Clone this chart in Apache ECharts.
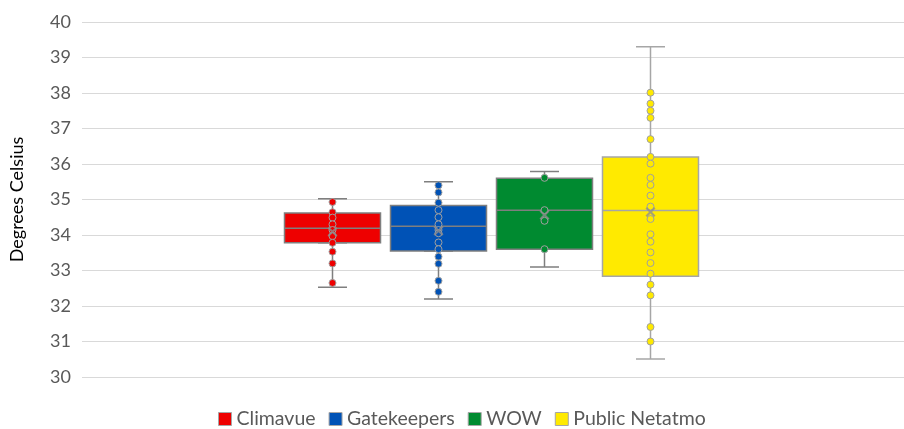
<!DOCTYPE html>
<html><head><meta charset="utf-8">
<script src="https://cdn.jsdelivr.net/npm/echarts@6/dist/echarts.min.js"></script>
<style>html,body{margin:0;padding:0;background:#fff}#c{width:904px;height:429px}</style>
</head><body><div id="c"></div>
<script>
// Station names (legend / categories)
const stationNames = ['Climavue', 'Gatekeepers', 'WOW', 'Public Netatmo'];
// Box statistics: [min, Q1, median, Q3, max]
const climavueStats = [32.53, 33.78, 34.19, 34.62, 35.02];
const gatekeepersStats = [32.20, 33.55, 34.25, 34.83, 35.50];
const wowStats = [33.10, 33.60, 34.70, 35.60, 35.79];
const netatmoStats = [30.51, 32.84, 34.69, 36.20, 39.30];
// Means (X markers)
const meanValues = [34.09, 34.12, 34.56, 34.65];
// Individual data points
const climavuePoints = [34.93, 34.64, 34.49, 34.30, 34.14, 33.97, 33.78, 33.53, 33.20, 32.65];
const gatekeepersPoints = [35.40, 35.20, 34.91, 34.70, 34.50, 34.30, 34.14, 34.05, 33.79, 33.60, 33.39, 33.19, 32.71, 32.40];
const wowPoints = [35.61, 34.70, 34.40, 33.60];
const netatmoPoints = [38.01, 37.70, 37.50, 37.30, 36.70, 36.20, 36.01, 35.61, 35.41, 35.11, 34.80, 34.45, 34.02, 33.81, 33.51, 33.21, 32.91, 32.60, 32.30, 31.41, 31.00];
// Axis
const yMin = 30, yMax = 40, yStep = 1;

const stats = [climavueStats, gatekeepersStats, wowStats, netatmoStats];
const points = [climavuePoints, gatekeepersPoints, wowPoints, netatmoPoints];
const fillColors = ['#ee0000', '#0052b6', '#008a30', '#ffea00'];
const lineColors = ['#7f7f7f', '#7f7f7f', '#7f7f7f', '#a6a6a6'];
const FONT = 'Lato';

const chart = echarts.init(document.getElementById('c'), null, {renderer: 'canvas'});

const whiskerData = stats.map((s, i) => ({
  value: [s[0], s[1], s[1], s[1], s[4]],
  itemStyle: {color: 'rgba(0,0,0,0)', borderColor: lineColors[i], borderWidth: 1.5}
}));
const boxData = stats.map((s, i) => ({
  value: [s[1], s[1], s[2], s[3], s[3]],
  itemStyle: {color: fillColors[i], borderColor: lineColors[i], borderWidth: 1.5}
}));

const pointSeries = points.map((p, i) => ({
  name: stationNames[i],
  type: 'scatter',
  xAxisIndex: 1, yAxisIndex: 1,
  data: p.map(v => [i, v]),
  symbol: 'circle',
  symbolSize: 7,
  itemStyle: {color: fillColors[i], borderColor: '#a0a0a0', borderWidth: 1, opacity: 1},
  z: 5,
  silent: true
}));

chart.setOption({
  animation: false,
  textStyle: {fontFamily: FONT},
  grid: [
    {left: 73, right: 0, top: 22, bottom: 52},
    {left: 279.5, right: 200.5, top: 22, bottom: 52}
  ],
  xAxis: [
    {type: 'category', gridIndex: 0, data: [''], show: false},
    {type: 'category', gridIndex: 1, data: stationNames, show: false},
    {type: 'category', gridIndex: 1, data: stationNames, show: false}
  ],
  yAxis: [
    {
      type: 'value', gridIndex: 0, min: yMin, max: yMax, interval: yStep,
      axisLine: {show: false}, axisTick: {show: false},
      axisLabel: {color: '#595959', fontSize: 18, margin: 11, fontFamily: FONT},
      splitLine: {lineStyle: {color: '#d9d9d9', width: 1}},
      name: 'Degrees Celsius', nameLocation: 'middle', nameGap: 56, nameRotate: 90,
      nameTextStyle: {color: '#000000', fontSize: 18, fontFamily: FONT}
    },
    {type: 'value', gridIndex: 1, min: yMin, max: yMax, interval: yStep, show: false, splitLine: {show: false}}
  ],
  legend: {
    data: stationNames,
    top: 404,
    left: 213,
    icon: 'rect',
    itemWidth: 13, itemHeight: 13, itemGap: 13,
    textStyle: {color: '#595959', fontSize: 19.5, fontFamily: FONT},
    itemStyle: {borderColor: '#a6a6a6', borderWidth: 1},
    selectedMode: false
  },
  series: [
    {
      type: 'boxplot', xAxisIndex: 2, yAxisIndex: 1,
      boxWidth: [29, 29], data: whiskerData, z: 2, silent: true
    },
    {
      type: 'boxplot', xAxisIndex: 1, yAxisIndex: 1,
      boxWidth: [96, 96], data: boxData, z: 3, silent: true
    },
    ...pointSeries,
    {
      type: 'scatter', xAxisIndex: 1, yAxisIndex: 1,
      data: meanValues.map((m, i) => [i, m]),
      symbol: 'path://M0,1.5 L1.5,0 L5,3.5 L8.5,0 L10,1.5 L6.5,5 L10,8.5 L8.5,10 L5,6.5 L1.5,10 L0,8.5 L3.5,5 Z',
      symbolSize: 10,
      itemStyle: {color: '#8f8f8f'},
      z: 6, silent: true
    }
  ]
});
</script>
</body></html>
